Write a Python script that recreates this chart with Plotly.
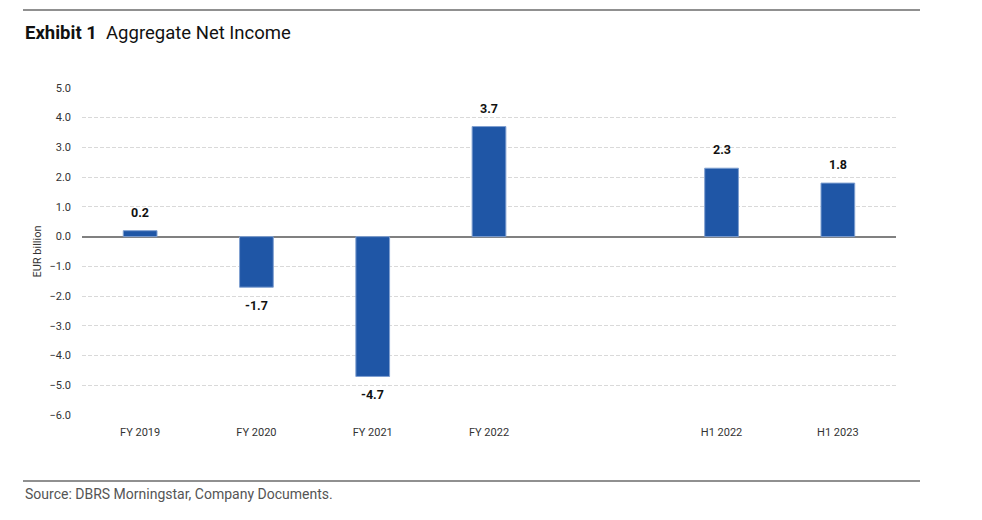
import plotly.graph_objects as go

categories = ["FY 2019", "FY 2020", "FY 2021", "FY 2022", " ", "H1 2022", "H1 2023"]
values = [0.2, -1.7, -4.7, 3.7, None, 2.3, 1.8]
y_ticks = [5, 4, 3, 2, 1, 0, -1, -2, -3, -4, -5, -6]

# page is rendered with an 8px body margin; compensate
OFF = 8
W, H = 982 - OFF, 520 - OFF
L, T = 82 - OFF, 87 - OFF
R = W - (896 - OFF)
B = H - (416 - OFF)
PW, PH = W - L - R, H - T - B

def px(x):
    return (x - OFF - L) / PW

def py(y):
    return (H - B - (y - OFF)) / PH

FONT = "Roboto, Arial, sans-serif"

fig = go.Figure(go.Bar(
    x=categories, y=values,
    marker=dict(color="#1f56a6", line=dict(color="#7f9fd0", width=1)),
    width=0.29,
    cliponaxis=False,
))

value_labels = []
for c, v in zip(categories, values):
    if v is None:
        continue
    pos = v >= 0
    value_labels.append(dict(
        x=c, y=v, xref="x", yref="y", text=f"<b>{v:.1f}</b>", showarrow=False,
        yanchor="bottom" if pos else "top", yshift=9 if pos else -9,
        font=dict(family=FONT, size=12.5, color="#111111"),
    ))

fig.update_layout(
    width=W, height=H,
    margin=dict(l=L, r=R, t=T, b=B),
    paper_bgcolor="white", plot_bgcolor="white",
    showlegend=False,
    font=dict(family=FONT, color="#333333", size=11),
    xaxis=dict(
        type="category", categoryorder="array", categoryarray=categories,
        showgrid=False, zeroline=False, showline=False, ticks="",
        tickfont=dict(size=11, color="#333333"),
        ticklabelstandoff=8,
    ),
    yaxis=dict(
        range=[-6.03, 5.03], tickvals=y_ticks, tickformat=".1f",
        showgrid=True, gridcolor="#d9d9d9", griddash="4px,2px", gridwidth=1,
        zeroline=True, zerolinecolor="#808080", zerolinewidth=2,
        showline=False, ticks="",
        tickfont=dict(size=11, color="#333333"),
        ticklabelstandoff=10,
        title=dict(text="EUR billion", font=dict(size=11, color="#333333"), standoff=5),
    ),
    shapes=[
        dict(type="line", xref="paper", yref="paper", x0=px(23), x1=px(920), y0=py(10), y1=py(10),
             line=dict(color="#222222", width=1.2)),
        dict(type="line", xref="paper", yref="paper", x0=px(23), x1=px(920), y0=py(481), y1=py(481),
             line=dict(color="#222222", width=1.2)),
    ],
    annotations=value_labels + [
        dict(xref="paper", yref="paper", x=px(23), y=py(33), xanchor="left", yanchor="middle",
             text="<b>Exhibit 1</b>  Aggregate Net Income", showarrow=False,
             font=dict(size=18.5, color="#111111")),
        dict(xref="paper", yref="paper", x=px(23), y=py(494), xanchor="left", yanchor="middle",
             text="Source: DBRS Morningstar, Company Documents.", showarrow=False,
             font=dict(size=14, color="#555555")),
    ],
)

fig.write_html("out.html")
